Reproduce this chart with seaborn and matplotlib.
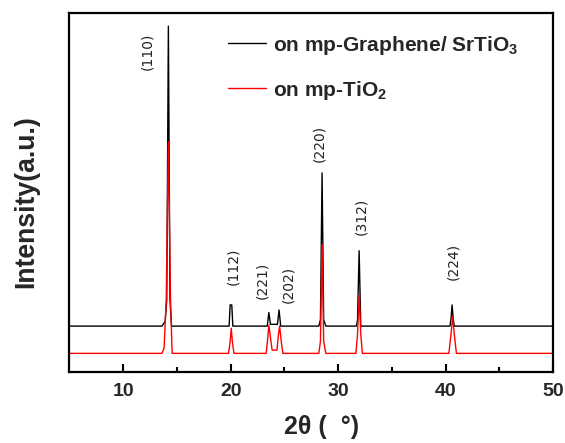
import matplotlib
matplotlib.use("Agg")
import matplotlib.pyplot as plt
import seaborn as sns
import pandas as pd

# ---- data (y in arbitrary units, 0..100) ----
black_x = [5, 13.6, 13.9, 14.05, 14.2, 14.35, 14.5, 19.85, 19.95, 20.1, 20.2,
           23.4, 23.55, 23.7, 24.35, 24.5, 24.65, 28.2, 28.35, 28.5, 28.65, 28.85,
           31.7, 31.8, 31.95, 32.1, 40.4, 40.5, 40.6, 40.7, 40.8, 50]
black_y = [12.7, 12.7, 14.0, 20, 96.3, 20, 12.7, 12.7, 18.6, 18.6, 12.7,
           12.7, 16.5, 13.2, 13.2, 17.2, 12.7, 12.7, 14.5, 55.4, 14.5, 12.7,
           12.7, 14.5, 33.7, 12.7, 12.7, 14.8, 18.6, 14.8, 12.7, 12.7]

red_x = [5, 13.6, 13.8, 14.0, 14.2, 14.4, 14.55, 19.8, 19.95, 20.05, 20.15, 20.3,
         23.3, 23.45, 23.55, 23.7, 23.85, 24.3, 24.45, 24.55, 24.7, 24.85,
         28.2, 28.35, 28.5, 28.65, 28.85, 31.65, 31.8, 31.95, 32.1, 32.25,
         40.3, 40.5, 40.65, 40.8, 41.0, 50]
red_y = [5.1, 5.1, 6.5, 20, 64.1, 20, 5.1, 5.1, 8.5, 12.1, 8.5, 5.1,
         5.1, 9.5, 13.0, 9.5, 6.0, 6.0, 10.5, 12.7, 8.5, 5.1,
         5.1, 8.5, 35.5, 8.5, 5.1, 5.1, 10.5, 21.4, 10.5, 5.1,
         5.1, 10.5, 15.3, 10.5, 5.1, 5.1]

series_names = ["on mp-Graphene/ SrTiO$_3$", "on mp-TiO$_2$"]
series_colors = ["black", "red"]

peak_labels = ["(110)", "(112)", "(221)", "(202)", "(220)", "(312)", "(224)"]
label_x = [12.2, 20.2, 22.9, 25.4, 28.2, 32.1, 40.7]
label_y = [89.4, 29.3, 25.5, 24.2, 63.6, 43.2, 30.6]

x_ticks = [10, 20, 30, 40, 50]
x_minor = [15, 25, 35, 45]

# ---- figure ----
sns.set_theme(style="ticks")
plt.rcParams["font.family"] = ["Liberation Sans", "DejaVu Sans"]
plt.rcParams["mathtext.fontset"] = "custom"
plt.rcParams["mathtext.rm"] = "Liberation Sans:bold"
plt.rcParams["mathtext.it"] = "Liberation Sans:bold"
plt.rcParams["mathtext.bf"] = "Liberation Sans:bold"

df = pd.concat([
    pd.DataFrame({"x": black_x, "y": black_y, "s": series_names[0]}),
    pd.DataFrame({"x": red_x, "y": red_y, "s": series_names[1]}),
], ignore_index=True)

fig = plt.figure(figsize=(5.65, 4.43), dpi=100)
ax = fig.add_axes([0.123, 0.161, 0.856, 0.810])

sns.lineplot(data=df, x="x", y="y", hue="s", hue_order=series_names,
             palette=dict(zip(series_names, series_colors)),
             estimator=None, sort=False, linewidth=1.0, ax=ax, legend=True)

ax.set_xlim(5, 50)
ax.set_ylim(0, 100)
ax.set_xticks(x_ticks)
ax.set_xticks(x_minor, minor=True)
ax.set_yticks([])
ax.tick_params(axis="x", which="major", direction="in", length=6, width=1.5,
               labelsize=14, pad=8, color="black")
ax.tick_params(axis="x", which="minor", direction="in", length=3.5, width=1.5,
               color="black")
for lab in ax.get_xticklabels():
    lab.set_fontweight("bold")
for sp in ax.spines.values():
    sp.set_visible(True)
    sp.set_linewidth(1.6)
    sp.set_color("black")

ax.set_xlabel("2θ (  °)", fontsize=18, fontweight="bold")
ax.xaxis.set_label_coords(0.522, -0.122)
ax.set_ylabel("Intensity(a.u.)", fontsize=19.2, fontweight="bold")
ax.yaxis.set_label_coords(-0.062, 0.474)

for t, lx, ly in zip(peak_labels, label_x, label_y):
    ax.text(lx, ly, t, rotation=90, ha="center", va="center", fontsize=10,
            color="#222222", family="DejaVu Sans")

handles, labels = ax.get_legend_handles_labels()
ax.legend(handles, labels, loc="upper left", bbox_to_anchor=(0.31, 0.965),
          frameon=False, prop={"weight": "bold", "size": 15},
          handlelength=1.85, handletextpad=0.3, labelspacing=1.05,
          borderaxespad=0)

fig.savefig("out.png", dpi=100)
